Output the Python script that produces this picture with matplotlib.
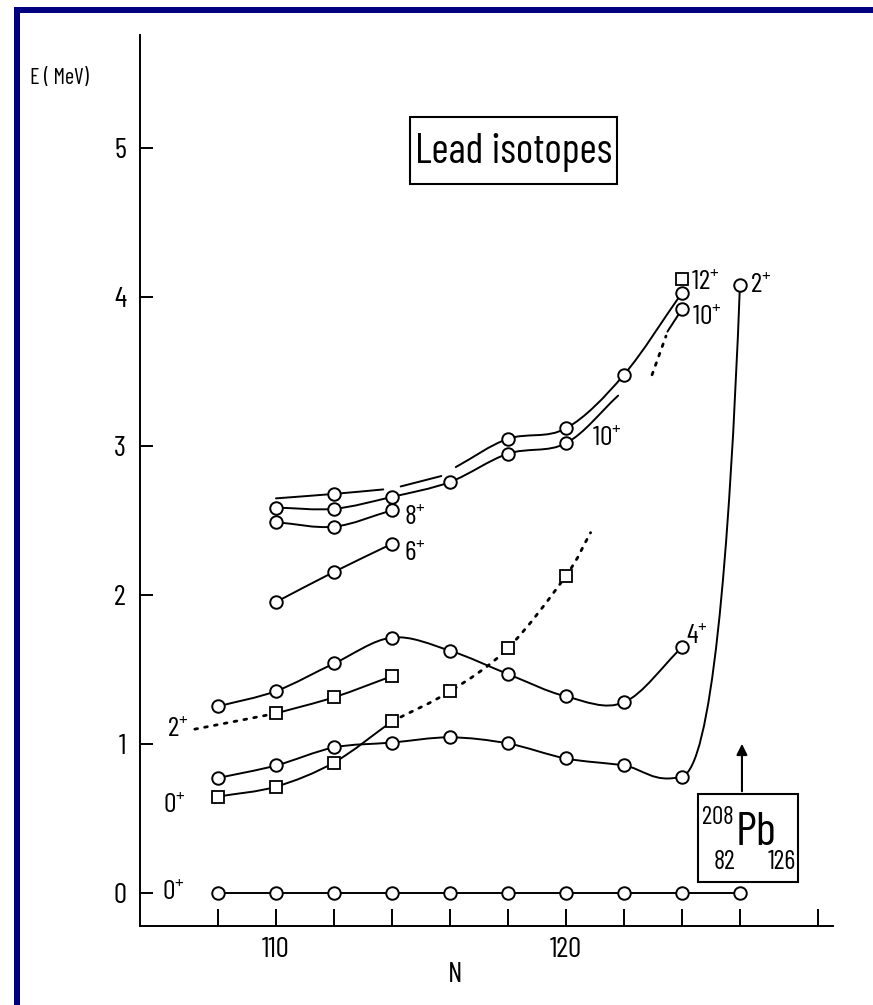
import numpy as np
import matplotlib
matplotlib.use('Agg')
import matplotlib.pyplot as plt
from matplotlib.path import Path
from matplotlib.patches import PathPatch, Rectangle

# Level energies (MeV) of even Pb isotopes versus neutron number N
N_gs = [108, 110, 112, 114, 116, 118, 120, 122, 124, 126]
E_gs = [0, 0, 0, 0, 0, 0, 0, 0, 0, 0]

N_2p = [108, 110, 112, 114, 116, 118, 120, 122, 124, 126]
E_2p = [0.772, 0.856, 0.977, 1.01, 1.045, 1.004, 0.903, 0.856, 0.782, 4.08]

N_4p = [108, 110, 112, 114, 116, 118, 120, 122, 124]
E_4p = [1.253, 1.356, 1.541, 1.715, 1.627, 1.47, 1.32, 1.28, 1.65]

N_0i = [108, 110, 112, 114]
E_0i = [0.647, 0.714, 0.876, 1.152]
N_0i_dot = [114, 116, 118, 120, 120.85]
E_0i_dot = [1.152, 1.354, 1.644, 2.13, 2.42]

N_2i = [110, 112, 114]
E_2i = [1.206, 1.314, 1.456]
N_2i_dot = [107.2, 110]
E_2i_dot = [1.10, 1.206]

N_6p = [110, 112, 114]
E_6p = [1.954, 2.156, 2.345]

N_8p = [110, 112, 114]
E_8p = [2.49, 2.46, 2.57]

N_10a = [110, 112, 114, 116, 118, 120, 121.8]
E_10a = [2.588, 2.58, 2.66, 2.76, 2.95, 3.02, 3.34]

# upper band, drawn in three pieces with gaps
N_10b = [[110, 112, 113.7], [114.3, 115.7], [116.2, 118, 120, 122, 124]]
E_10b = [[2.65, 2.68, 2.71], [2.73, 2.80], [2.86, 3.05, 3.12, 3.48, 4.03]]
N_10b_pts = [112, 118, 120, 122, 124]
E_10b_pts = [2.68, 3.05, 3.12, 3.48, 4.03]

N_10c_dot = [122.97, 123.45]
E_10c_dot = [3.48, 3.74]
N_10c = [123.5, 124]
E_10c = [3.77, 3.92]

N_12p = [124]
E_12p = [4.12]

# spin labels: (N, E, spin)
spin_labels = [
    (106.45, 0.0, '0'), (106.5, 0.585, '0'), (106.6, 1.095, '2'),
    (114.8, 2.28, '6'), (114.8, 2.52, '8'), (121.4, 3.05, '10'),
    (124.8, 4.10, '12'), (124.85, 3.86, '10'), (126.7, 4.08, '2'),
    (124.5, 1.72, '4'),
]

plt.rcParams['font.family'] = ['Barlow Condensed', 'DejaVu Sans']

LW = 1.4


def smooth(ax, xs, ys, ls='-', lw=LW, tangents=None):
    # Catmull-Rom style cubic through the given points
    pts = np.column_stack([xs, ys]).astype(float)
    n = len(pts)
    m = np.zeros_like(pts)
    for i in range(n):
        if tangents and i in tangents:
            m[i] = tangents[i]
        elif i == 0:
            m[i] = pts[1] - pts[0]
        elif i == n - 1:
            m[i] = pts[-1] - pts[-2]
        else:
            m[i] = (pts[i + 1] - pts[i - 1]) / 2
    verts = [pts[0]]
    codes = [Path.MOVETO]
    for i in range(n - 1):
        verts += [pts[i] + m[i] / 3, pts[i + 1] - m[i + 1] / 3, pts[i + 1]]
        codes += [Path.CURVE4] * 3
    ax.add_patch(PathPatch(Path(verts, codes), fill=False, lw=lw, ls=ls, ec='k',
                           capstyle='round', zorder=2))


fig = plt.figure(figsize=(8.73, 10.05), dpi=100)
ax = fig.add_axes([140 / 873, 79 / 1005, 693 / 873, 891 / 1005])
ax.set_xlim(105.31, 129.21)
ax.set_ylim(-0.222, 5.762)

dotted = (0, (1, 2.6))
circ = dict(ls='none', marker='o', ms=9, mfc='white', mec='k', mew=1.4, zorder=3)
sq = dict(ls='none', marker='s', ms=8, mfc='white', mec='k', mew=1.3, zorder=3)

# ground state
ax.plot(N_gs, E_gs, color='k', lw=LW, zorder=2)
ax.plot(N_gs, E_gs, **circ)

# 2+ and 4+
smooth(ax, N_2p, E_2p, tangents={8: (3.0, 0.15), 9: (1.1, 5.6)})
ax.plot(N_2p, E_2p, **circ)
smooth(ax, N_4p, E_4p)
ax.plot(N_4p, E_4p, **circ)

# intruder 0+ and 2+
smooth(ax, N_0i, E_0i)
smooth(ax, N_0i_dot, E_0i_dot, ls=dotted, lw=2.0)
ax.plot(N_0i, E_0i, **sq)
ax.plot(N_0i_dot[1:4], E_0i_dot[1:4], **sq)
smooth(ax, N_2i, E_2i)
smooth(ax, N_2i_dot, E_2i_dot, ls=dotted, lw=2.0)
ax.plot(N_2i, E_2i, **sq)

# high spin levels
smooth(ax, N_6p, E_6p)
ax.plot(N_6p, E_6p, **circ)
smooth(ax, N_8p, E_8p)
ax.plot(N_8p, E_8p, **circ)
smooth(ax, N_10a, E_10a)
ax.plot(N_10a[:-1], E_10a[:-1], **circ)
for xs, ys in zip(N_10b, E_10b):
    smooth(ax, xs, ys)
ax.plot(N_10b_pts, E_10b_pts, **circ)
smooth(ax, N_10c_dot, E_10c_dot, ls=dotted, lw=2.0)
smooth(ax, N_10c, E_10c)
ax.plot(N_10c[-1:], E_10c[-1:], **circ)
ax.plot(N_12p, E_12p, **sq)

for x, y, s in spin_labels:
    ax.text(x, y, r'$\mathregular{%s^{+}}$' % s, fontsize=20, ha='center', va='center')

# axes
for side in ['top', 'right']:
    ax.spines[side].set_visible(False)
for side in ['left', 'bottom']:
    ax.spines[side].set_linewidth(LW)
ax.set_yticks([0, 1, 2, 3, 4, 5])
ax.set_xticks([108, 110, 112, 114, 116, 118, 120, 122, 124, 126, 128.7])
ax.set_xticklabels(['', '110', '', '', '', '', '120', '', '', '', ''])
ax.tick_params(axis='y', direction='in', length=9, width=1.4, pad=10, labelsize=21)
ax.tick_params(axis='x', direction='in', length=12, width=1.4, pad=8, labelsize=21)
fig.text(455 / 873, 1 - 975 / 1005, 'N', fontsize=21, ha='center', va='center')
fig.text(30 / 873, 1 - 78 / 1005, 'E ( MeV)', fontsize=16, ha='left', va='center')

# title box
ax.add_patch(Rectangle((114.62, 4.76), 7.14, 0.45, fc='white', ec='k', lw=1.5, zorder=4))
ax.text(118.19, 4.975, 'Lead isotopes', fontsize=30, ha='center', va='center', zorder=5)

# doubly magic 208Pb marker
ax.add_patch(Rectangle((124.55, 0.074), 3.45, 0.59, fc='white', ec='k', lw=1.5, zorder=4))
ax.annotate('', xy=(126.07, 1.02), xytext=(126.07, 0.664),
            arrowprops=dict(arrowstyle='-|>', color='k', lw=1.5, mutation_scale=16))
ax.text(125.24, 0.51, '208', fontsize=18, ha='center', va='center', zorder=5)
ax.text(126.55, 0.40, 'Pb', fontsize=34, ha='center', va='center', zorder=5)
ax.text(125.48, 0.21, '82', fontsize=19, ha='center', va='center', zorder=5)
ax.text(127.45, 0.21, '126', fontsize=19, ha='center', va='center', zorder=5)

# navy frame along top and left edges
fig.add_artist(Rectangle((14 / 873, 1 - 13 / 1005), 1, 6 / 1005, transform=fig.transFigure,
                         fc='#000080', ec='none'))
fig.add_artist(Rectangle((14 / 873, 0), 6 / 873, 1 - 7 / 1005, transform=fig.transFigure,
                         fc='#000080', ec='none'))

fig.savefig('out.png', dpi=100)
